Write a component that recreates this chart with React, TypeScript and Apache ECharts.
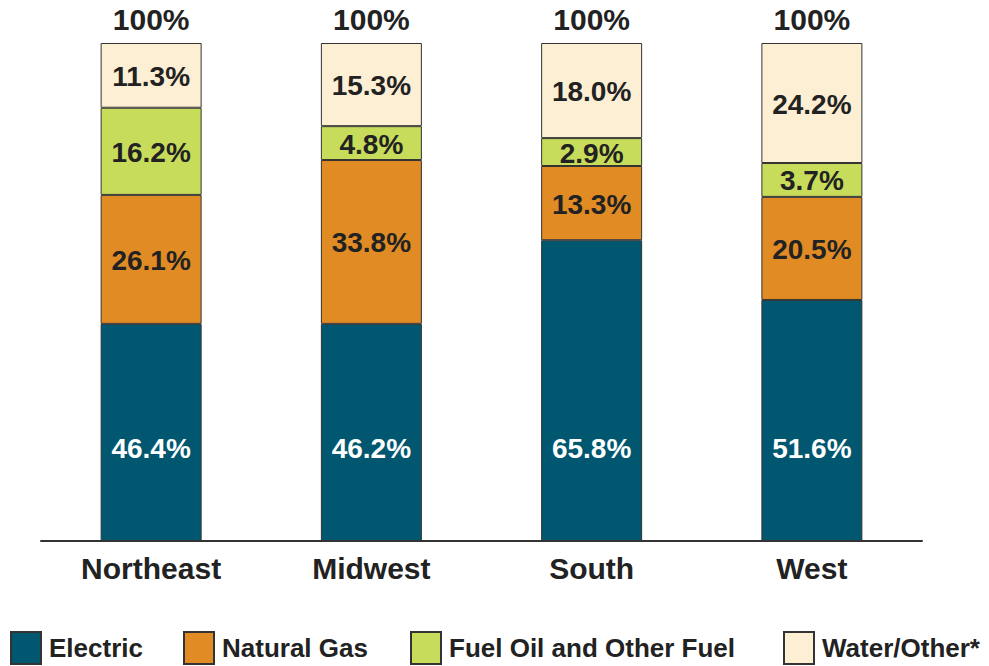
import React, { useEffect, useRef } from "react";
import * as echarts from "echarts";

const categories = ["Northeast", "Midwest", "South", "West"];
const seriesNames = ["Electric", "Natural Gas", "Fuel Oil and Other Fuel", "Water/Other*"];

// Printed percentages (labels)
const electricLabel = [46.4, 46.2, 65.8, 51.6];
const naturalGasLabel = [26.1, 33.8, 13.3, 20.5];
const fuelOilLabel = [16.2, 4.8, 2.9, 3.7];
const waterOtherLabel = [11.3, 15.3, 18.0, 24.2];

// Segment heights as drawn in the picture (% of bar height)
const electricDrawn = [43.6, 43.6, 60.4, 48.4];
const naturalGasDrawn = [25.9, 32.9, 14.9, 20.7];
const fuelOilDrawn = [17.5, 6.8, 5.6, 6.8];
const waterOtherDrawn = [13.0, 16.7, 19.1, 24.1];

const colors = ["#00576f", "#e18b25", "#c8dc5c", "#fdefd4"];
const legendLeft = [10, 183, 410, 783];

const FONT = "'Liberation Sans', Arial, sans-serif";

export default function App() {
  const ref = useRef<HTMLDivElement>(null);
  useEffect(() => {
    if (!ref.current) return;
    const chart = echarts.init(ref.current, null, { renderer: "svg" });
    const labels = [electricLabel, naturalGasLabel, fuelOilLabel, waterOtherLabel];
    const drawn = [electricDrawn, naturalGasDrawn, fuelOilDrawn, waterOtherDrawn];
    const totals = categories.map((_, i) => labels.reduce((s, arr) => s + arr[i], 0));
    const mk = (idx: number) => ({
      name: seriesNames[idx],
      type: "bar",
      stack: "total",
      barWidth: 101,
      clip: false,
      data: drawn[idx],
      itemStyle: { color: colors[idx], borderColor: "#333", borderWidth: 1 },
      label: {
        show: true,
        position: idx === 0 ? "insideBottom" : "inside",
        distance: idx === 0 ? 80 : 5,
        offset: [0, 1],
        color: idx === 0 ? "#ffffff" : "#222",
        fontFamily: FONT,
        fontWeight: "bold",
        fontSize: 28,
        formatter: (p: any) => labels[idx][p.dataIndex].toFixed(1) + "%",
      },
      emphasis: { disabled: true },
    });
    const series: any[] = [mk(0), mk(1), mk(2), mk(3)];
    series.push({
      name: "total",
      type: "bar",
      stack: "total",
      barWidth: 101,
      data: totals.map(() => 0),
      itemStyle: { color: "transparent" },
      label: {
        show: true,
        position: "top",
        distance: 9,
        color: "#222",
        fontFamily: FONT,
        fontWeight: "bold",
        fontSize: 30,
        formatter: (p: any) => Math.round(totals[p.dataIndex]) + "%",
      },
      emphasis: { disabled: true },
      silent: true,
    });
    const legends = seriesNames.map((name, i) => ({
      data: [name],
      left: legendLeft[i],
      top: 631,
      padding: 0,
      itemWidth: 30,
      itemHeight: 32,
      icon: "rect",
      textStyle: {
        color: "#222",
        fontFamily: FONT,
        fontWeight: "bold",
        fontSize: 26,
        padding: [0, 0, 0, 3],
      },
      selectedMode: false,
    }));
    chart.setOption({
      animation: false,
      grid: { left: 41, right: 67, top: 43, bottom: 125 },
      xAxis: {
        type: "category",
        data: categories,
        axisLine: { show: true, lineStyle: { color: "#333", width: 2 } },
        axisTick: { show: false },
        axisLabel: {
          color: "#222",
          fontFamily: FONT,
          fontWeight: "bold",
          fontSize: 30,
          margin: 12,
        },
      },
      yAxis: {
        type: "value",
        min: 0,
        max: 100,
        show: false,
        splitLine: { show: false },
      },
      legend: legends,
      series,
    });
    return () => chart.dispose();
  }, []);
  return (
    <div
      ref={ref}
      style={{ position: "fixed", left: 0, top: 0, width: 989, height: 666, background: "#fff" }}
    />
  );
}
